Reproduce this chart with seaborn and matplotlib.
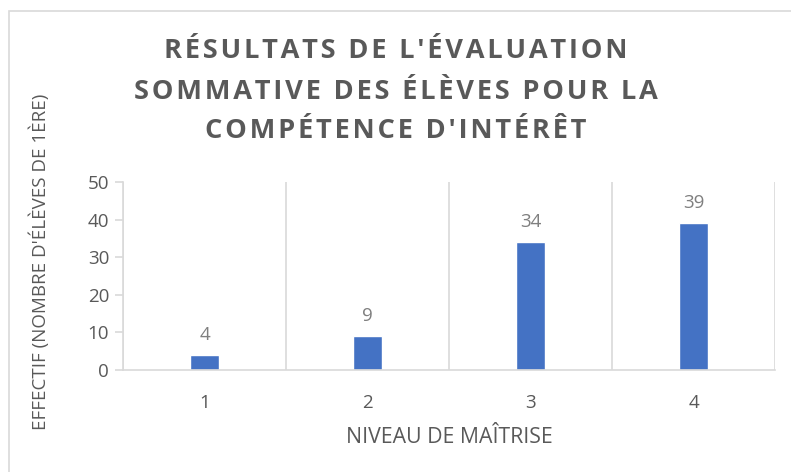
import pandas as pd
import matplotlib.pyplot as plt
import matplotlib.patches as mpatches
import seaborn as sns

niveaux = ['1', '2', '3', '4']
effectifs = [4, 9, 34, 39]

titre_lignes = ["RÉSULTATS DE L'ÉVALUATION",
                "SOMMATIVE DES ÉLÈVES POUR LA",
                "COMPÉTENCE D'INTÉRÊT"]
xlabel = "NIVEAU DE MAÎTRISE"
ylabel = "EFFECTIF (NOMBRE D'ÉLÈVES DE 1ÈRE)"

df = pd.DataFrame({'Niveau': niveaux, 'Effectif': effectifs})

sns.set_style('white')
plt.rcParams['font.family'] = ['Open Sans', 'DejaVu Sans']

grey = '#595959'
grid_c = '#d9d9d9'

fig = plt.figure(figsize=(7.91, 4.72), dpi=100)
ax = fig.add_axes([0.1555, 0.2161, 0.8245, 0.3983])

# chart border
fig.patches.append(mpatches.Rectangle((9 / 791, -0.1), 1.0, 1 - 11 / 472 + 0.1,
                                      transform=fig.transFigure, fill=False,
                                      edgecolor=grid_c, linewidth=1.2))

sns.barplot(data=df, x='Niveau', y='Effectif', color='#4472C4', width=0.18,
            saturation=1, ax=ax)
for c in ax.containers:
    ax.bar_label(c, padding=8, color='#7f7f7f', fontsize=13.5)

ax.set_xlim(-0.5, 3.5)
ax.set_ylim(0, 50)
ax.set_yticks(range(0, 51, 10))
ax.set_xticks([-0.5, 0.5, 1.5, 2.5, 3.5], minor=True)
ax.grid(which='minor', axis='x', color=grid_c, linewidth=1.2)
ax.grid(which='major', visible=False)

for s in ['top', 'right']:
    ax.spines[s].set_visible(False)
for s in ['left', 'bottom']:
    ax.spines[s].set_color(grid_c)
    ax.spines[s].set_linewidth(1.2)

ax.tick_params(axis='y', which='major', length=6, color=grid_c, width=1.2,
               labelsize=13.5, labelcolor=grey, pad=4, left=True)
ax.tick_params(axis='x', which='major', length=0, labelsize=13.5,
               labelcolor=grey, pad=17)
ax.tick_params(axis='x', which='minor', length=0)

ax.set_xlabel(xlabel, fontsize=15.3, color=grey, labelpad=11)
ax.set_ylabel('')
fig.text(40 / 791, 1 - 262 / 472, ylabel, rotation=90, ha='center', va='center',
         fontsize=13.5, color=grey)

# espacement des lettres du titre
sp = '\u200a'
for ligne, yc in zip(titre_lignes, [51, 92, 131]):
    fig.text(0.5, 1 - yc / 472, sp.join(ligne), ha='center', va='center',
             fontsize=19.6, fontweight='bold', color=grey)

plt.savefig('out.png', dpi=100)
